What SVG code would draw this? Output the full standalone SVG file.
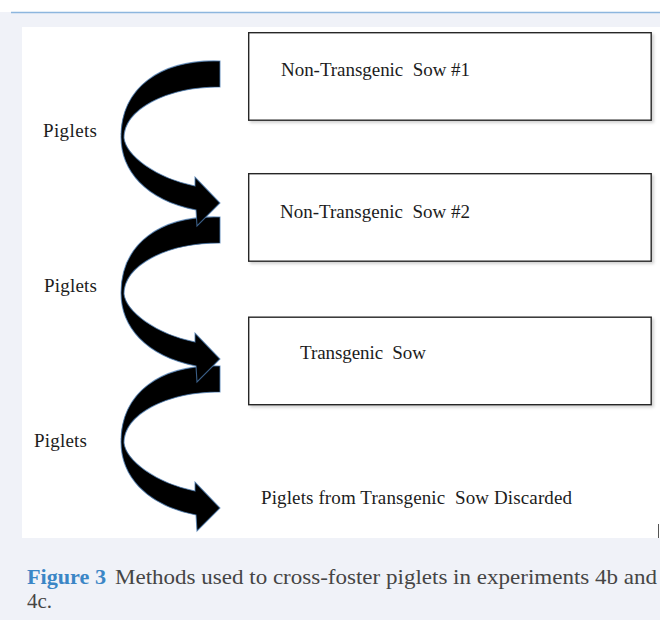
<svg xmlns="http://www.w3.org/2000/svg" xmlns:xlink="http://www.w3.org/1999/xlink" width="660" height="620" viewBox="0 0 660 620">
  <style>
    .box { fill: #ffffff; stroke: #262626; stroke-width: 1.4; }
    .lbl { font-family: "Liberation Serif", "Times New Roman", serif; font-size: 19px; fill: #1c1c1c; white-space: pre; }
    .arrow { fill: #000000; stroke: #4d7db3; stroke-width: 1.1; stroke-opacity: 0.75; stroke-linejoin: miter; }
    .cap { font-family: "Liberation Serif", "Times New Roman", serif; font-size: 22px; fill: #454545; }
    .capb { font-family: "Liberation Serif", "Times New Roman", serif; font-size: 22px; font-weight: bold; fill: #3b86c6; }
  </style>
  <defs>
    <filter id="shadow" x="-5%" y="-10%" width="112%" height="125%">
      <feDropShadow dx="2" dy="2" stdDeviation="1.5" flood-color="#000" flood-opacity="0.18"/>
    </filter>
    <path id="curvedArrow" d="M220,61 C160,59 121,88 121,137 C121,170 145,200 196,210 L197,226 L220,203 L195,177 L195,186 C155,178 126,155 124,138 C124,110 165,87 220,87 Z"/>
  </defs>

  <!-- page background -->
  <rect x="0" y="0" width="660" height="620" fill="#ffffff"/>
  <rect x="0" y="12" width="660" height="608" fill="#f0f2f8"/>
  <line x1="11" y1="12.5" x2="660" y2="12.5" stroke="#8db6de" stroke-width="1.3"/>
  <rect x="22" y="27" width="638" height="511" fill="#ffffff"/>
  <line x1="658.5" y1="524" x2="658.5" y2="538" stroke="#555" stroke-width="1"/>

  <!-- connectors -->
  <g id="connectors">
    <use xlink:href="#curvedArrow" class="arrow" transform="translate(0,305)"/>
    <use xlink:href="#curvedArrow" class="arrow" transform="translate(0,156)"/>
    <use xlink:href="#curvedArrow" class="arrow"/>
  </g>

  <!-- nodes -->
  <g id="sow1">
    <rect class="box" x="248.7" y="32.7" width="402.5" height="87.5" filter="url(#shadow)"/>
    <text class="lbl" x="281" y="76" textLength="189" lengthAdjust="spacing" xml:space="preserve">Non-Transgenic  Sow #1</text>
  </g>
  <g id="sow2">
    <rect class="box" x="248.7" y="173.7" width="402.5" height="87.5" filter="url(#shadow)"/>
    <text class="lbl" x="280" y="218" textLength="190" lengthAdjust="spacing" xml:space="preserve">Non-Transgenic  Sow #2</text>
  </g>
  <g id="sow3">
    <rect class="box" x="248.7" y="317.2" width="402.5" height="87.5" filter="url(#shadow)"/>
    <text class="lbl" x="300" y="359" textLength="126" lengthAdjust="spacing" xml:space="preserve">Transgenic  Sow</text>
  </g>
  <g id="discarded">
    <text class="lbl" x="261" y="504" textLength="311" lengthAdjust="spacing" xml:space="preserve">Piglets from Transgenic  Sow Discarded</text>
  </g>
  <g id="piglets1">
    <text class="lbl" x="43" y="137" textLength="54" lengthAdjust="spacing">Piglets</text>
  </g>
  <g id="piglets2">
    <text class="lbl" x="44" y="292" textLength="53" lengthAdjust="spacing">Piglets</text>
  </g>
  <g id="piglets3">
    <text class="lbl" x="34" y="447" textLength="53" lengthAdjust="spacing">Piglets</text>
  </g>

  <!-- caption -->
  <g id="caption">
    <text class="capb" x="27" y="584" textLength="79" lengthAdjust="spacingAndGlyphs">Figure 3</text>
    <text class="cap" x="115" y="584" textLength="542" lengthAdjust="spacingAndGlyphs">Methods used to cross-foster piglets in experiments 4b and</text>
    <text class="cap" x="27" y="608" textLength="25" lengthAdjust="spacingAndGlyphs">4c.</text>
  </g>
</svg>
